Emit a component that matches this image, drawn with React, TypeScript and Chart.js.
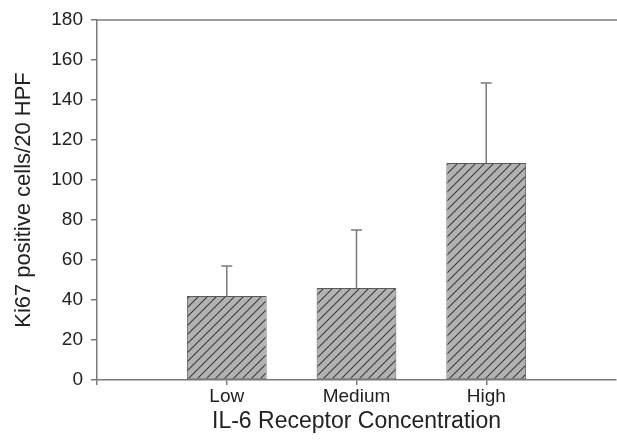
import React, { useEffect, useRef } from 'react';
import { Chart, registerables } from 'chart.js';

Chart.register(...registerables);

const categories = ['Low', 'Medium', 'High'];
const means = [42, 46, 108.5];
const errorsUp = [15, 29, 40];
const yMin = 0;
const yMax = 180;
const yStep = 20;
const xTitle = 'IL-6 Receptor Concentration';
const yTitle = 'Ki67 positive cells/20 HPF';

const axisColor = '#7a7a7a';
const textColor = '#222222';
const fontFamily = '"Liberation Sans", Arial, sans-serif';

function makeHatch(): CanvasPattern | string {
  const s = 9;
  const c = document.createElement('canvas');
  c.width = s;
  c.height = s;
  const g = c.getContext('2d');
  if (!g) return '#a6a6a6';
  g.fillStyle = '#b2b2b2';
  g.fillRect(0, 0, s, s);
  g.strokeStyle = '#3c3c3c';
  g.lineWidth = 1.1;
  g.beginPath();
  g.moveTo(0, s);
  g.lineTo(s, 0);
  g.moveTo(-2, 2);
  g.lineTo(2, -2);
  g.moveTo(s - 2, s + 2);
  g.lineTo(s + 2, s - 2);
  g.stroke();
  const p = g.createPattern(c, 'repeat');
  return p || '#a6a6a6';
}

const errorBarPlugin = {
  id: 'errorBars',
  afterDatasetsDraw(chart: any) {
    const ctx = chart.ctx;
    const meta = chart.getDatasetMeta(0);
    const y = chart.scales.y;
    const errs: (number | null)[] = chart.data.datasets[0].errUp;
    const vals: (number | null)[] = chart.data.datasets[0].data;
    ctx.save();
    ctx.strokeStyle = axisColor;
    ctx.lineWidth = 1.5;
    meta.data.forEach((bar: any, i: number) => {
      const v = vals[i];
      const e = errs[i];
      if (v == null || e == null) return;
      const x = bar.x;
      const y0 = y.getPixelForValue(v);
      const y1 = y.getPixelForValue(v + e);
      ctx.beginPath();
      ctx.moveTo(x, y0);
      ctx.lineTo(x, y1);
      ctx.moveTo(x - 5.5, y1);
      ctx.lineTo(x + 5.5, y1);
      ctx.stroke();
    });
    ctx.restore();
  },
};

const topBorderPlugin = {
  id: 'topBorder',
  afterDraw(chart: any) {
    const { ctx, chartArea } = chart;
    ctx.save();
    ctx.strokeStyle = axisColor;
    ctx.lineWidth = 1.5;
    ctx.beginPath();
    ctx.moveTo(chartArea.left, chartArea.top);
    ctx.lineTo(chartArea.right + 2, chartArea.top);
    ctx.stroke();
    ctx.restore();
  },
};

export default function App() {
  const ref = useRef<HTMLCanvasElement | null>(null);

  useEffect(() => {
    if (!ref.current) return;
    const labels = ['', ...categories, ''];
    const data = [null, ...means, null];
    const errUp = [null, ...errorsUp, null];
    const hatch = makeHatch();
    const lastIndex = labels.length - 1;
    const chart = new Chart(ref.current, {
      type: 'bar',
      data: {
        labels,
        datasets: [
          {
            data,
            errUp,
            backgroundColor: hatch,
            borderColor: '#5a5a5a',
            borderWidth: 1,
            borderSkipped: false,
            categoryPercentage: 1,
            barPercentage: 0.615,
          } as any,
        ],
      },
      options: {
        animation: false,
        responsive: false,
        maintainAspectRatio: false,
        layout: { padding: { top: 20, right: 1, left: 0, bottom: 0 } },
        plugins: {
          legend: { display: false },
          tooltip: { enabled: false },
        },
        scales: {
          x: {
            type: 'category',
            offset: false,
            grid: {
              display: true,
              offset: false,
              drawOnChartArea: false,
              drawTicks: true,
              tickLength: 5,
              color: (c: any) => (c.index === lastIndex ? 'rgba(0,0,0,0)' : axisColor),
              lineWidth: 1.5,
            },
            border: { display: true, color: axisColor, width: 1.5 },
            ticks: {
              color: textColor,
              font: { family: fontFamily, size: 19 },
              padding: 0,
              maxRotation: 0,
              autoSkip: false,
            },
            title: {
              display: true,
              text: xTitle,
              color: textColor,
              font: { family: fontFamily, size: 23 },
              padding: { top: 0, bottom: 6 },
            },
            afterFit(scale: any) {
              scale.height = 61;
            },
          },
          y: {
            min: yMin,
            max: yMax,
            grid: {
              display: true,
              drawOnChartArea: false,
              drawTicks: true,
              tickLength: 6,
              color: axisColor,
              lineWidth: 1.5,
            },
            border: { display: true, color: axisColor, width: 1.5 },
            ticks: {
              stepSize: yStep,
              color: textColor,
              font: { family: fontFamily, size: 19 },
              padding: 8,
            },
            title: {
              display: true,
              text: yTitle,
              color: textColor,
              font: { family: fontFamily, size: 22 },
              padding: { top: 11, bottom: 0 },
            },
            afterFit(scale: any) {
              scale.width = 97;
            },
          },
        },
      },
      plugins: [errorBarPlugin, topBorderPlugin],
    });
    return () => chart.destroy();
  }, []);

  return (
    <div style={{ position: 'fixed', left: 0, top: 0, width: 617, height: 441, background: '#fff' }}>
      <canvas ref={ref} width={617} height={441} style={{ width: 617, height: 441, display: 'block' }} />
    </div>
  );
}
